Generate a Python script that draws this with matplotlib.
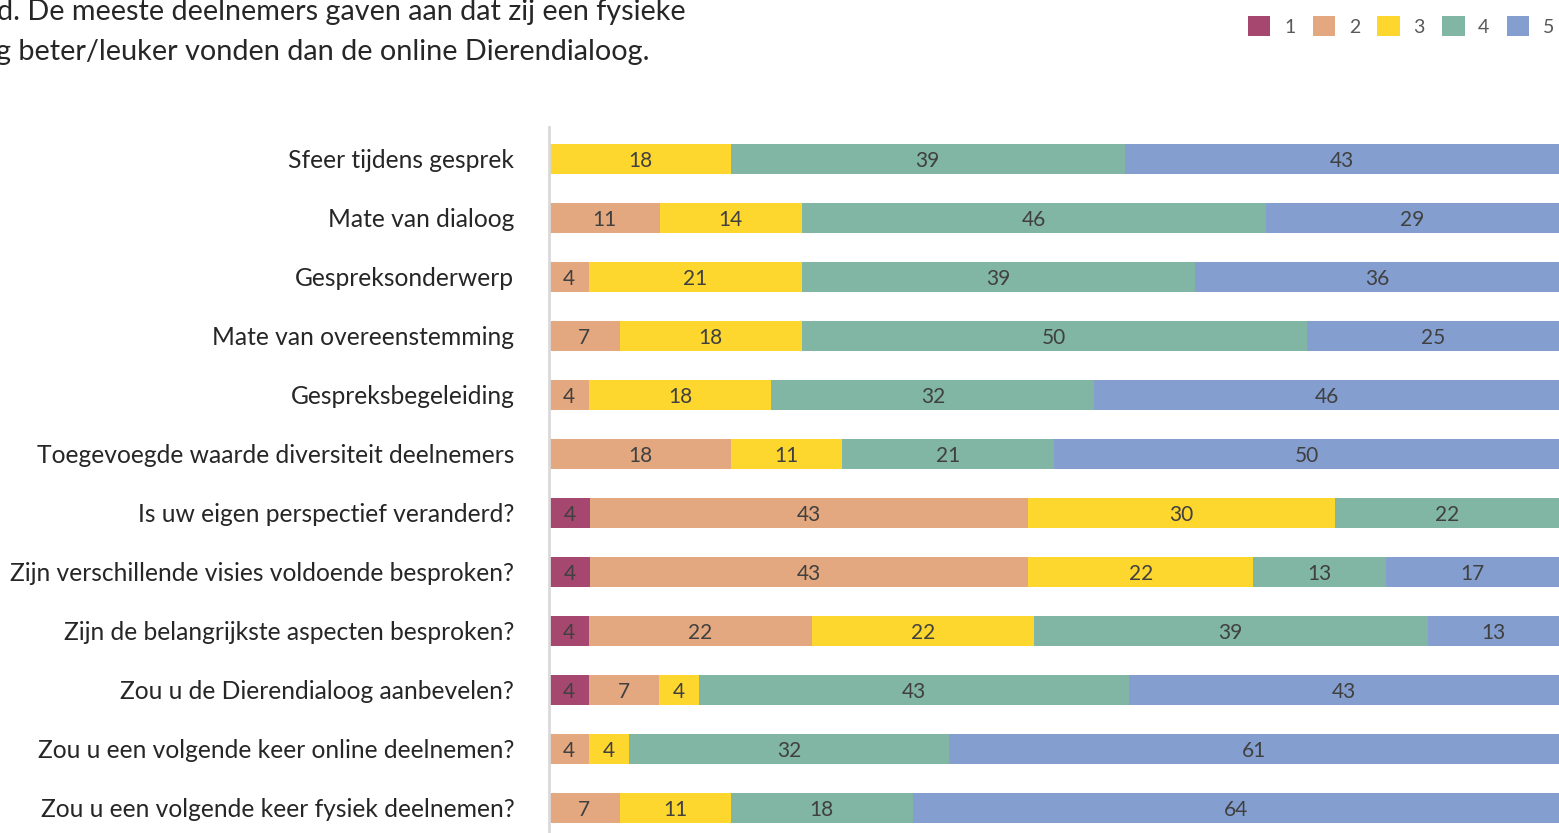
import numpy as np
import matplotlib.pyplot as plt
from matplotlib.patches import Patch

plt.rcParams['font.family'] = ['Lato', 'DejaVu Sans']

questions = [
    "Sfeer tijdens gesprek",
    "Mate van dialoog",
    "Gespreksonderwerp",
    "Mate van overeenstemming",
    "Gespreksbegeleiding",
    "Toegevoegde waarde diversiteit deelnemers",
    "Is uw eigen perspectief veranderd?",
    "Zijn verschillende visies voldoende besproken?",
    "Zijn de belangrijkste aspecten besproken?",
    "Zou u de Dierendialoog aanbevelen?",
    "Zou u een volgende keer online deelnemen?",
    "Zou u een volgende keer fysiek deelnemen?",
]
scores = ["1", "2", "3", "4", "5"]
# percentage per score (1..5), per question
score1 = [0, 0, 0, 0, 0, 0, 4, 4, 4, 4, 0, 0]
score2 = [0, 11, 4, 7, 4, 18, 43, 43, 22, 7, 4, 7]
score3 = [18, 14, 21, 18, 18, 11, 30, 22, 22, 4, 4, 11]
score4 = [39, 46, 39, 50, 32, 21, 22, 13, 39, 43, 32, 18]
score5 = [43, 29, 36, 25, 46, 50, 0, 17, 13, 43, 61, 64]
colors = ["#A5476F", "#E3A880", "#FDD62E", "#81B5A4", "#839ECF"]

W, H = 1559, 833
fig = plt.figure(figsize=(W / 100, H / 100), dpi=100)
ax = fig.add_axes([549 / W, 0, 1 - 549 / W, (833 - 127) / H])

data = np.array([score1, score2, score3, score4, score5], dtype=float)
# 100% stacked: each row scaled to fill the full width
widths = data / data.sum(axis=0) * 100

y = np.arange(len(questions))
left = np.zeros(len(questions))
for vals, w, c in zip(data, widths, colors):
    bars = ax.barh(y, w, left=left, height=0.51, color=c, edgecolor='none')
    for b, v in zip(bars, vals):
        if v > 0:
            ax.text(b.get_x() + b.get_width() / 2, b.get_y() + b.get_height() / 2,
                    f"{int(v)}", ha='center', va='center_baseline', fontsize=15, color='#404040')
    left += w

ax.set_xlim(0, 100)
ax.set_ylim(11 + 25 / 59, -0.54)
ax.set_yticks(y)
ax.set_yticklabels(questions, fontsize=17.7, color='#262626')
ax.tick_params(axis='y', length=0, pad=25)
ax.set_xticks([])
for s in ['top', 'right', 'bottom']:
    ax.spines[s].set_visible(False)
ax.spines['left'].set_color('#d9d9d9')
ax.spines['left'].set_linewidth(2)

fig.text(-3 / W, 1 - 20 / H, "d. De meeste deelnemers gaven aan dat zij een fysieke",
         fontsize=20.7, color='#262626', ha='left', va='baseline')
fig.text(-4 / W, 1 - 60 / H, "g beter/leuker vonden dan de online Dierendialoog.",
         fontsize=20.8, color='#262626', ha='left', va='baseline')

handles = [Patch(facecolor=c, edgecolor='none') for c in colors]
fig.legend(handles, scores, loc='center left', bbox_to_anchor=(1248 / W, 1 - 26 / H),
           ncol=5, frameon=False, fontsize=14, labelcolor='#595959',
           borderpad=0, borderaxespad=0,
           handlelength=1.15, handleheight=1.15, handletextpad=0.7, columnspacing=0.9)

fig.savefig("out.png", dpi=100)
